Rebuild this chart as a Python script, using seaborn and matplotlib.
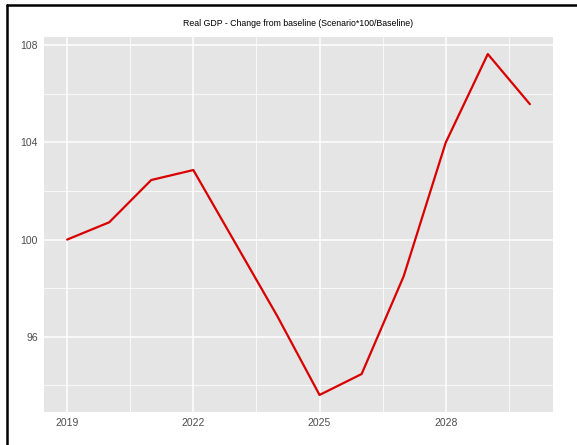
"""
Real GDP - change from baseline, ggplot-like look.
"""

import matplotlib
matplotlib.use('Agg')
import matplotlib.pyplot as plt
from matplotlib.lines import Line2D
from matplotlib.ticker import MultipleLocator
import seaborn as sns
import pandas as pd

years = [2019, 2020, 2021, 2022, 2023, 2024, 2025, 2026, 2027, 2028, 2029, 2030]
gdp_index = [100.0, 100.71, 102.45, 102.86, 99.85, 96.84, 93.61, 94.47, 98.49, 103.99, 107.63, 105.57]
x_ticks = [2019, 2022, 2025, 2028]
y_ticks = [96, 100, 104, 108]
title = 'Real GDP - Change from baseline (Scenario*100/Baseline)'

df = pd.DataFrame({'year': years, 'value': gdp_index})

sns.set_theme(style='darkgrid')
plt.rcParams['font.family'] = ['Liberation Sans', 'DejaVu Sans']

fig = plt.figure(figsize=(5.77, 4.45), dpi=100)
ax = fig.add_axes([44 / 577, 33 / 445, 509 / 577, 375 / 445])
ax.set_facecolor('#e5e5e5')

sns.lineplot(data=df, x='year', y='value', color='#d90000', linewidth=1.6, ax=ax)

span_x = years[-1] - years[0]
span_y = max(gdp_index) - min(gdp_index)
ax.set_xlim(years[0] - 0.05 * span_x, years[-1] + 0.05 * span_x)
ax.set_ylim(min(gdp_index) - 0.05 * span_y, max(gdp_index) + 0.05 * span_y)

ax.set_xticks(x_ticks)
ax.set_yticks(y_ticks)
ax.xaxis.set_minor_locator(MultipleLocator(1.5))
ax.yaxis.set_minor_locator(MultipleLocator(2))
ax.grid(which='major', color='white', linewidth=1.1)
ax.grid(which='minor', color='white', linewidth=0.55)
ax.set_axisbelow(True)
for s in ax.spines.values():
    s.set_visible(False)

ax.tick_params(axis='both', which='major', length=2.5, width=0.9, color='#333333',
               labelsize=7.5, labelcolor='#4d4d4d', pad=2)
ax.tick_params(axis='both', which='minor', length=0)
ax.set_xlabel('')
ax.set_ylabel('')

fig.text((44 + 553) / 2 / 577, (445 - 23) / 445, title, ha='center', va='center',
         fontsize=6.3, color='black')

# frame lines at left and top (screenshot edge)
fig.add_artist(Line2D([6.5 / 577, 6.5 / 577], [0, 1 - 4.5 / 445], color='black',
                      linewidth=1.8, transform=fig.transFigure))
fig.add_artist(Line2D([6.5 / 577, 1], [1 - 4.5 / 445, 1 - 4.5 / 445], color='black',
                      linewidth=1.8, transform=fig.transFigure))

plt.savefig('out.png', dpi=100)
plt.close()
